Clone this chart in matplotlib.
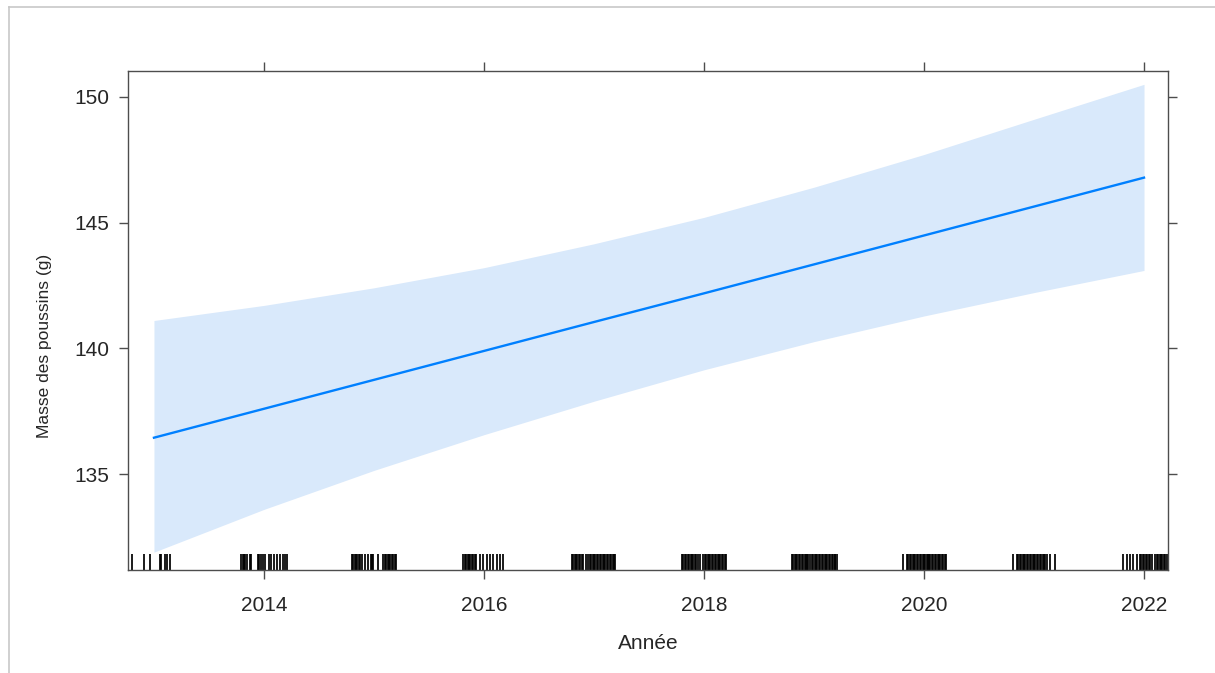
import numpy as np
import matplotlib
matplotlib.use('Agg')
import matplotlib.pyplot as plt
from matplotlib.lines import Line2D

plt.rcParams['font.family'] = ['Liberation Sans', 'DejaVu Sans']

# effect of year on chick mass (fitted line and confidence band)
years = [2013, 2014, 2015, 2016, 2017, 2018, 2019, 2020, 2021, 2022]
fit = [136.45, 137.60, 138.75, 139.90, 141.05, 142.19, 143.34, 144.49, 145.64, 146.79]
upper = [141.11, 141.71, 142.41, 143.21, 144.16, 145.21, 146.41, 147.71, 149.11, 150.50]
lower = [131.90, 133.60, 135.15, 136.57, 137.90, 139.15, 140.27, 141.29, 142.22, 143.10]

# rug: jittered observation years (offset from the year)
rug_offsets = {
    2013: [-0.200, -0.091, -0.036, 0.055, 0.068, 0.100, 0.118, 0.145],
    2014: [-0.205, -0.195, -0.182, -0.168, -0.155, -0.127, -0.114, -0.055, -0.041,
           -0.027, -0.009, 0.009, 0.045, 0.064, 0.091, 0.118, 0.145, 0.173, 0.191, 0.209],
    2015: [-0.203, -0.190, -0.177, -0.164, -0.151, -0.138, -0.127, -0.112, -0.082,
           -0.052, -0.027, -0.018, -0.009, 0.039, 0.085, 0.098, 0.111, 0.124, 0.137,
           0.150, 0.163, 0.176, 0.189, 0.203],
    2016: [-0.188, -0.175, -0.162, -0.149, -0.136, -0.123, -0.110, -0.097, -0.084,
           -0.071, -0.036, -0.006, 0.025, 0.055, 0.085, 0.115, 0.145, 0.175],
    2017: [-0.203, -0.190, -0.177, -0.164, -0.151, -0.138, -0.125, -0.112, -0.100,
           -0.073, -0.052, -0.039, -0.026, -0.013, 0.000, 0.013, 0.026, 0.039, 0.052,
           0.065, 0.078, 0.091, 0.104, 0.117, 0.130, 0.143, 0.156, 0.169, 0.182, 0.191],
    2018: [-0.200, -0.187, -0.174, -0.161, -0.148, -0.135, -0.122, -0.109, -0.096,
           -0.083, -0.070, -0.052, -0.036, -0.006, 0.007, 0.020, 0.033, 0.046, 0.059,
           0.072, 0.085, 0.098, 0.111, 0.124, 0.137, 0.150, 0.163, 0.176, 0.189, 0.200],
    2019: [-0.203, -0.190, -0.177, -0.164, -0.151, -0.138, -0.125, -0.112, -0.099,
           -0.086, -0.073, -0.060, -0.052, -0.036, -0.021, -0.008, 0.005, 0.018, 0.031,
           0.044, 0.057, 0.070, 0.083, 0.096, 0.109, 0.122, 0.135, 0.148, 0.161, 0.174,
           0.187, 0.191, 0.206],
    2020: [-0.188, -0.157, -0.143, -0.130, -0.117, -0.104, -0.091, -0.078, -0.065,
           -0.052, -0.039, -0.026, -0.013, 0.000, 0.013, 0.025, 0.034, 0.045, 0.058,
           0.071, 0.084, 0.097, 0.110, 0.123, 0.136, 0.149, 0.162, 0.175, 0.188, 0.200],
    2021: [-0.188, -0.157, -0.143, -0.130, -0.117, -0.104, -0.091, -0.078, -0.065,
           -0.052, -0.039, -0.026, -0.013, 0.000, 0.013, 0.026, 0.039, 0.052, 0.065,
           0.078, 0.091, 0.104, 0.115, 0.145, 0.191],
    2022: [-0.188, -0.157, -0.127, -0.097, -0.066, -0.036, -0.023, -0.010, 0.003,
           0.016, 0.029, 0.042, 0.055, 0.070, 0.100, 0.115, 0.128, 0.141, 0.154, 0.167,
           0.180, 0.193, 0.206],
}

xticks = [2014, 2016, 2018, 2020, 2022]
yticks = [135, 140, 145, 150]

fig = plt.figure(figsize=(12.15, 6.73), dpi=100)

# light grey frame of the screenshot
fig.add_artist(Line2D([9/1215, 9/1215], [0, 1 - 7/673], transform=fig.transFigure,
                      color='#c8c8c8', lw=1.2))
fig.add_artist(Line2D([9/1215, 1], [1 - 7/673, 1 - 7/673], transform=fig.transFigure,
                      color='#c8c8c8', lw=1.2))

ax = fig.add_axes([128/1215, 103/673, 1040/1215, 499/673])

ax.fill_between(years, lower, upper, color='#d9e9fb', lw=0)
ax.plot(years, fit, color='#0080ff', lw=1.7)

rug = []
for y in years:
    for o in rug_offsets[y]:
        rug.append(y + o)
ax.vlines(rug, 0, 0.032, transform=ax.get_xaxis_transform(), color='black', lw=1.25)

ax.set_xlim(2012.764, 2022.218)
ax.set_ylim(131.19, 151.03)

ax.set_xticks(xticks)
ax.set_yticks(yticks)
ax.tick_params(axis='both', which='both', direction='out', length=6.5, width=1,
               color='#4d4d4d', labelsize=15, labelcolor='#262626', pad=12,
               top=True, right=True, labeltop=False, labelright=False)
ax.tick_params(axis='y', pad=7)
for s in ax.spines.values():
    s.set_color('#4d4d4d')
    s.set_linewidth(1)

ax.set_xlabel('Année', fontsize=15, color='#262626', labelpad=14)
ax.set_ylabel('Masse des poussins (g)', fontsize=12.5, color='#262626')
ax.yaxis.set_label_coords(-0.073, 0.45)

fig.savefig('out.png', dpi=100)
